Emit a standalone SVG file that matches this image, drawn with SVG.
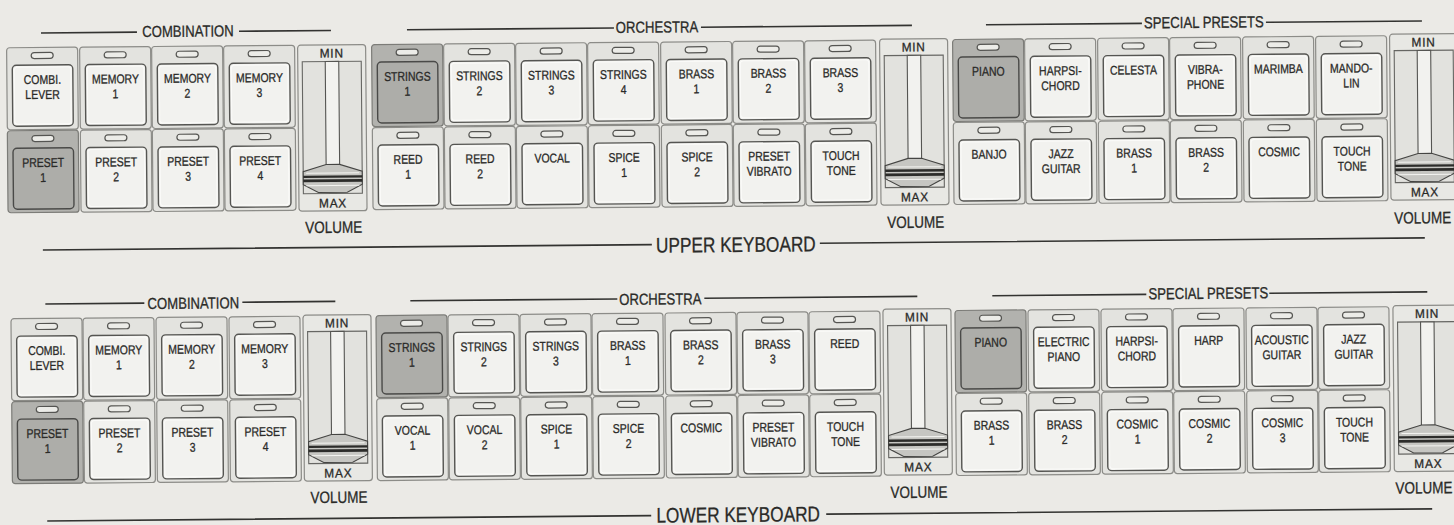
<svg xmlns="http://www.w3.org/2000/svg" xmlns:xlink="http://www.w3.org/1999/xlink" width="1454" height="525" viewBox="0 0 1454 525">
<style>
.t{font-family:"Liberation Sans Narrow","Arial Narrow","Liberation Sans",sans-serif;fill:#2a2a28;stroke:#2a2a28;stroke-width:0.3;text-anchor:middle;transform-box:fill-box;transform-origin:50% 50%;transform:scaleX(0.82)}
.b{font-size:12.8px}
.h{font-size:16px}
.k{font-size:21px}
.v{font-size:16.5px}
.m{font-size:12.5px;letter-spacing:0.8px;transform:scaleX(0.95)}
.frame{fill:#e3e3df;stroke:#8c8c88;stroke-width:1.2}
.frameS{fill:#b2b2ae;stroke:#7c7c78;stroke-width:1.2}
.led{fill:#ecece8;stroke:#555552;stroke-width:1.2}
.key{fill:#f2f2ef;stroke:#555552;stroke-width:1.4}
.keyS{fill:#adada9;stroke:#4a4a48;stroke-width:1.4}
.hi{fill:none;stroke:#fbfbf9;stroke-width:1}
.rule{stroke:#333331;stroke-width:1.6;fill:none}
.vbox{fill:#e8e8e4;stroke:#8c8c88;stroke-width:1.2}
.track{fill:#e2e2de;stroke:#666663;stroke-width:1.1}
.rail{fill:#f2f2ef;stroke:#555552;stroke-width:1.1}
.cap{fill:#c6c6c2;stroke:#454543;stroke-width:1.1}
.band{fill:#2c2c2a}
</style>
<defs>
<g id="btn">
<rect class="frame" x="0.5" y="0.5" width="71" height="82" rx="3"/>
<rect class="led" x="25" y="5.5" width="22" height="6" rx="3"/>
<rect class="key" x="6" y="18" width="60.5" height="61" rx="4"/>
<rect class="hi" x="8" y="20" width="56.5" height="57" rx="3"/>
</g>
<g id="btnS">
<rect class="frameS" x="0.5" y="0.5" width="71" height="82" rx="3"/>
<rect class="led" x="25" y="5.5" width="22" height="6" rx="3"/>
<rect class="keyS" x="6" y="18" width="60.5" height="61" rx="4"/>
</g>
<g id="fader">
<rect class="vbox" x="0.5" y="0.5" width="68" height="166" rx="3"/>
<rect class="track" x="5" y="17" width="59" height="132"/>
<rect class="rail" x="28" y="17" width="13.5" height="104"/>
<polygon class="cap" points="28,120 41.5,120 64,127 64,140 49,148 20,148 5,140 5,127"/>
<line x1="8" y1="128.5" x2="61" y2="128.5" stroke="#f4f4f1" stroke-width="1"/>
<rect class="band" x="5" y="131" width="59" height="2.4"/>
<rect class="band" x="5" y="134.8" width="59" height="2.8"/>
<line x1="8" y1="141" x2="61" y2="141" stroke="#f4f4f1" stroke-width="1"/>
</g>
</defs>
<rect x="0" y="0" width="1454" height="525" fill="#ebeae6"/>
<g transform="rotate(-0.5 727 262)">

<g id="connectors">
<path class="rule" d="M43 27H139M241 27H333"/>
<path class="rule" d="M409 27H616M703 27H914"/>
<path class="rule" d="M988 27H1144M1268 27H1424"/>
<path class="rule" d="M43 244H652M820 244H1425"/>
<path class="rule" d="M45 298H144M242 298H335"/>
<path class="rule" d="M410 298H617M704 298H917"/>
<path class="rule" d="M992 298H1146M1269 298H1427"/>
<path class="rule" d="M45 515H649M824 515H1430"/>
</g>

<g id="labels">
<text class="t h" x="190" y="32">COMBINATION</text>
<text class="t h" x="659" y="32">ORCHESTRA</text>
<text class="t h" x="1206" y="32">SPECIAL PRESETS</text>
<text class="t k" x="736" y="252">UPPER KEYBOARD</text>
<text class="t h" x="193" y="304">COMBINATION</text>
<text class="t h" x="660" y="304">ORCHESTRA</text>
<text class="t h" x="1208" y="303">SPECIAL PRESETS</text>
<text class="t k" x="736" y="522">LOWER KEYBOARD</text>
</g>

<!-- UPPER: combination -->
<g id="u-combi-lever" transform="translate(8 41)"><use href="#btn"/><text class="t b" x="36" y="37">COMBI.</text><text class="t b" x="36" y="52">LEVER</text></g>
<g id="u-memory-1" transform="translate(81 41)"><use href="#btn"/><text class="t b" x="36" y="37">MEMORY</text><text class="t b" x="36" y="52">1</text></g>
<g id="u-memory-2" transform="translate(153 41)"><use href="#btn"/><text class="t b" x="36" y="37">MEMORY</text><text class="t b" x="36" y="52">2</text></g>
<g id="u-memory-3" transform="translate(225 41)"><use href="#btn"/><text class="t b" x="36" y="37">MEMORY</text><text class="t b" x="36" y="52">3</text></g>
<g id="u-preset-1" transform="translate(8 124)"><use href="#btnS"/><text class="t b" x="36" y="37">PRESET</text><text class="t b" x="36" y="52">1</text></g>
<g id="u-preset-2" transform="translate(81 124)"><use href="#btn"/><text class="t b" x="36" y="37">PRESET</text><text class="t b" x="36" y="52">2</text></g>
<g id="u-preset-3" transform="translate(153 124)"><use href="#btn"/><text class="t b" x="36" y="37">PRESET</text><text class="t b" x="36" y="52">3</text></g>
<g id="u-preset-4" transform="translate(225 124)"><use href="#btn"/><text class="t b" x="36" y="37">PRESET</text><text class="t b" x="36" y="52">4</text></g>
<g id="u-volume-1" transform="translate(299 41)"><use href="#fader"/><text class="t m" x="34.5" y="13">MIN</text><text class="t m" x="34.5" y="163">MAX</text><text class="t v" x="35" y="188.5">VOLUME</text></g>

<!-- UPPER: orchestra -->
<g id="u-strings-1" transform="translate(373 41)"><use href="#btnS"/><text class="t b" x="36" y="37">STRINGS</text><text class="t b" x="36" y="52">1</text></g>
<g id="u-strings-2" transform="translate(445 41)"><use href="#btn"/><text class="t b" x="36" y="37">STRINGS</text><text class="t b" x="36" y="52">2</text></g>
<g id="u-strings-3" transform="translate(517 41)"><use href="#btn"/><text class="t b" x="36" y="37">STRINGS</text><text class="t b" x="36" y="52">3</text></g>
<g id="u-strings-4" transform="translate(589 41)"><use href="#btn"/><text class="t b" x="36" y="37">STRINGS</text><text class="t b" x="36" y="52">4</text></g>
<g id="u-brass-1" transform="translate(662 41)"><use href="#btn"/><text class="t b" x="36" y="37">BRASS</text><text class="t b" x="36" y="52">1</text></g>
<g id="u-brass-2" transform="translate(734 41)"><use href="#btn"/><text class="t b" x="36" y="37">BRASS</text><text class="t b" x="36" y="52">2</text></g>
<g id="u-brass-3" transform="translate(806 41)"><use href="#btn"/><text class="t b" x="36" y="37">BRASS</text><text class="t b" x="36" y="52">3</text></g>
<g id="u-reed-1" transform="translate(373 124)"><use href="#btn"/><text class="t b" x="36" y="37">REED</text><text class="t b" x="36" y="52">1</text></g>
<g id="u-reed-2" transform="translate(445 124)"><use href="#btn"/><text class="t b" x="36" y="37">REED</text><text class="t b" x="36" y="52">2</text></g>
<g id="u-vocal" transform="translate(517 124)"><use href="#btn"/><text class="t b" x="36" y="37">VOCAL</text></g>
<g id="u-spice-1" transform="translate(589 124)"><use href="#btn"/><text class="t b" x="36" y="37">SPICE</text><text class="t b" x="36" y="52">1</text></g>
<g id="u-spice-2" transform="translate(662 124)"><use href="#btn"/><text class="t b" x="36" y="37">SPICE</text><text class="t b" x="36" y="52">2</text></g>
<g id="u-preset-vibrato" transform="translate(734 124)"><use href="#btn"/><text class="t b" x="36" y="37">PRESET</text><text class="t b" x="36" y="52">VIBRATO</text></g>
<g id="u-touch-tone-o" transform="translate(806 124)"><use href="#btn"/><text class="t b" x="36" y="37">TOUCH</text><text class="t b" x="36" y="52">TONE</text></g>
<g id="u-volume-2" transform="translate(881 40)"><use href="#fader"/><text class="t m" x="34.5" y="13">MIN</text><text class="t m" x="34.5" y="163">MAX</text><text class="t v" x="35" y="189.5">VOLUME</text></g>

<!-- UPPER: special presets -->
<g id="u-piano" transform="translate(954 41)"><use href="#btnS"/><text class="t b" x="36" y="37">PIANO</text></g>
<g id="u-harpsichord" transform="translate(1026 41)"><use href="#btn"/><text class="t b" x="36" y="37">HARPSI-</text><text class="t b" x="36" y="52">CHORD</text></g>
<g id="u-celesta" transform="translate(1099 41)"><use href="#btn"/><text class="t b" x="36" y="37">CELESTA</text></g>
<g id="u-vibraphone" transform="translate(1171 41)"><use href="#btn"/><text class="t b" x="36" y="37">VIBRA-</text><text class="t b" x="36" y="52">PHONE</text></g>
<g id="u-marimba" transform="translate(1244 41)"><use href="#btn"/><text class="t b" x="36" y="37">MARIMBA</text></g>
<g id="u-mandolin" transform="translate(1317 41)"><use href="#btn"/><text class="t b" x="36" y="37">MANDO-</text><text class="t b" x="36" y="52">LIN</text></g>
<g id="u-banjo" transform="translate(954 124)"><use href="#btn"/><text class="t b" x="36" y="37">BANJO</text></g>
<g id="u-jazz-guitar" transform="translate(1026 124)"><use href="#btn"/><text class="t b" x="36" y="37">JAZZ</text><text class="t b" x="36" y="52">GUITAR</text></g>
<g id="u-sp-brass-1" transform="translate(1099 124)"><use href="#btn"/><text class="t b" x="36" y="37">BRASS</text><text class="t b" x="36" y="52">1</text></g>
<g id="u-sp-brass-2" transform="translate(1171 124)"><use href="#btn"/><text class="t b" x="36" y="37">BRASS</text><text class="t b" x="36" y="52">2</text></g>
<g id="u-cosmic" transform="translate(1244 124)"><use href="#btn"/><text class="t b" x="36" y="37">COSMIC</text></g>
<g id="u-touch-tone-s" transform="translate(1317 124)"><use href="#btn"/><text class="t b" x="36" y="37">TOUCH</text><text class="t b" x="36" y="52">TONE</text></g>
<g id="u-volume-3" transform="translate(1391 39.5)"><use href="#fader"/><text class="t m" x="34.5" y="13">MIN</text><text class="t m" x="34.5" y="163">MAX</text><text class="t v" x="32" y="190">VOLUME</text></g>

<!-- LOWER: combination -->
<g id="l-combi-lever" transform="translate(10 312)"><use href="#btn"/><text class="t b" x="36" y="37">COMBI.</text><text class="t b" x="36" y="52">LEVER</text></g>
<g id="l-memory-1" transform="translate(82 312)"><use href="#btn"/><text class="t b" x="36" y="37">MEMORY</text><text class="t b" x="36" y="52">1</text></g>
<g id="l-memory-2" transform="translate(155 312)"><use href="#btn"/><text class="t b" x="36" y="37">MEMORY</text><text class="t b" x="36" y="52">2</text></g>
<g id="l-memory-3" transform="translate(228 312)"><use href="#btn"/><text class="t b" x="36" y="37">MEMORY</text><text class="t b" x="36" y="52">3</text></g>
<g id="l-preset-1" transform="translate(10 395)"><use href="#btnS"/><text class="t b" x="36" y="37">PRESET</text><text class="t b" x="36" y="52">1</text></g>
<g id="l-preset-2" transform="translate(82 395)"><use href="#btn"/><text class="t b" x="36" y="37">PRESET</text><text class="t b" x="36" y="52">2</text></g>
<g id="l-preset-3" transform="translate(155 395)"><use href="#btn"/><text class="t b" x="36" y="37">PRESET</text><text class="t b" x="36" y="52">3</text></g>
<g id="l-preset-4" transform="translate(228 395)"><use href="#btn"/><text class="t b" x="36" y="37">PRESET</text><text class="t b" x="36" y="52">4</text></g>
<g id="l-volume-1" transform="translate(302 311)"><use href="#fader"/><text class="t m" x="34.5" y="13">MIN</text><text class="t m" x="34.5" y="163">MAX</text><text class="t v" x="35" y="188.5">VOLUME</text></g>

<!-- LOWER: orchestra -->
<g id="l-strings-1" transform="translate(375 312)"><use href="#btnS"/><text class="t b" x="36" y="37">STRINGS</text><text class="t b" x="36" y="52">1</text></g>
<g id="l-strings-2" transform="translate(447 312)"><use href="#btn"/><text class="t b" x="36" y="37">STRINGS</text><text class="t b" x="36" y="52">2</text></g>
<g id="l-strings-3" transform="translate(519 312)"><use href="#btn"/><text class="t b" x="36" y="37">STRINGS</text><text class="t b" x="36" y="52">3</text></g>
<g id="l-brass-1" transform="translate(591 312)"><use href="#btn"/><text class="t b" x="36" y="37">BRASS</text><text class="t b" x="36" y="52">1</text></g>
<g id="l-brass-2" transform="translate(664 312)"><use href="#btn"/><text class="t b" x="36" y="37">BRASS</text><text class="t b" x="36" y="52">2</text></g>
<g id="l-brass-3" transform="translate(736 312)"><use href="#btn"/><text class="t b" x="36" y="37">BRASS</text><text class="t b" x="36" y="52">3</text></g>
<g id="l-reed" transform="translate(808 312)"><use href="#btn"/><text class="t b" x="36" y="37">REED</text></g>
<g id="l-vocal-1" transform="translate(375 395)"><use href="#btn"/><text class="t b" x="36" y="37">VOCAL</text><text class="t b" x="36" y="52">1</text></g>
<g id="l-vocal-2" transform="translate(447 395)"><use href="#btn"/><text class="t b" x="36" y="37">VOCAL</text><text class="t b" x="36" y="52">2</text></g>
<g id="l-spice-1" transform="translate(519 395)"><use href="#btn"/><text class="t b" x="36" y="37">SPICE</text><text class="t b" x="36" y="52">1</text></g>
<g id="l-spice-2" transform="translate(591 395)"><use href="#btn"/><text class="t b" x="36" y="37">SPICE</text><text class="t b" x="36" y="52">2</text></g>
<g id="l-cosmic" transform="translate(664 395)"><use href="#btn"/><text class="t b" x="36" y="37">COSMIC</text></g>
<g id="l-preset-vibrato" transform="translate(736 395)"><use href="#btn"/><text class="t b" x="36" y="37">PRESET</text><text class="t b" x="36" y="52">VIBRATO</text></g>
<g id="l-touch-tone-o" transform="translate(808 395)"><use href="#btn"/><text class="t b" x="36" y="37">TOUCH</text><text class="t b" x="36" y="52">TONE</text></g>
<g id="l-volume-2" transform="translate(882 310)"><use href="#fader"/><text class="t m" x="34.5" y="13">MIN</text><text class="t m" x="34.5" y="163">MAX</text><text class="t v" x="35" y="189.5">VOLUME</text></g>

<!-- LOWER: special presets -->
<g id="l-piano" transform="translate(954 312)"><use href="#btnS"/><text class="t b" x="36" y="37">PIANO</text></g>
<g id="l-electric-piano" transform="translate(1027 312)"><use href="#btn"/><text class="t b" x="36" y="37">ELECTRIC</text><text class="t b" x="36" y="52">PIANO</text></g>
<g id="l-harpsichord" transform="translate(1100 312)"><use href="#btn"/><text class="t b" x="36" y="37">HARPSI-</text><text class="t b" x="36" y="52">CHORD</text></g>
<g id="l-harp" transform="translate(1172 312)"><use href="#btn"/><text class="t b" x="36" y="37">HARP</text></g>
<g id="l-acoustic-guitar" transform="translate(1245 312)"><use href="#btn"/><text class="t b" x="36" y="37">ACOUSTIC</text><text class="t b" x="36" y="52">GUITAR</text></g>
<g id="l-jazz-guitar" transform="translate(1317 312)"><use href="#btn"/><text class="t b" x="36" y="37">JAZZ</text><text class="t b" x="36" y="52">GUITAR</text></g>
<g id="l-sp-brass-1" transform="translate(954 395)"><use href="#btn"/><text class="t b" x="36" y="37">BRASS</text><text class="t b" x="36" y="52">1</text></g>
<g id="l-sp-brass-2" transform="translate(1027 395)"><use href="#btn"/><text class="t b" x="36" y="37">BRASS</text><text class="t b" x="36" y="52">2</text></g>
<g id="l-cosmic-1" transform="translate(1100 395)"><use href="#btn"/><text class="t b" x="36" y="37">COSMIC</text><text class="t b" x="36" y="52">1</text></g>
<g id="l-cosmic-2" transform="translate(1172 395)"><use href="#btn"/><text class="t b" x="36" y="37">COSMIC</text><text class="t b" x="36" y="52">2</text></g>
<g id="l-cosmic-3" transform="translate(1245 395)"><use href="#btn"/><text class="t b" x="36" y="37">COSMIC</text><text class="t b" x="36" y="52">3</text></g>
<g id="l-touch-tone-s" transform="translate(1317 395)"><use href="#btn"/><text class="t b" x="36" y="37">TOUCH</text><text class="t b" x="36" y="52">TONE</text></g>
<g id="l-volume-3" transform="translate(1392 311)"><use href="#fader"/><text class="t m" x="34.5" y="13">MIN</text><text class="t m" x="34.5" y="163">MAX</text><text class="t v" x="30" y="188.5">VOLUME</text></g>

</g>
</svg>
